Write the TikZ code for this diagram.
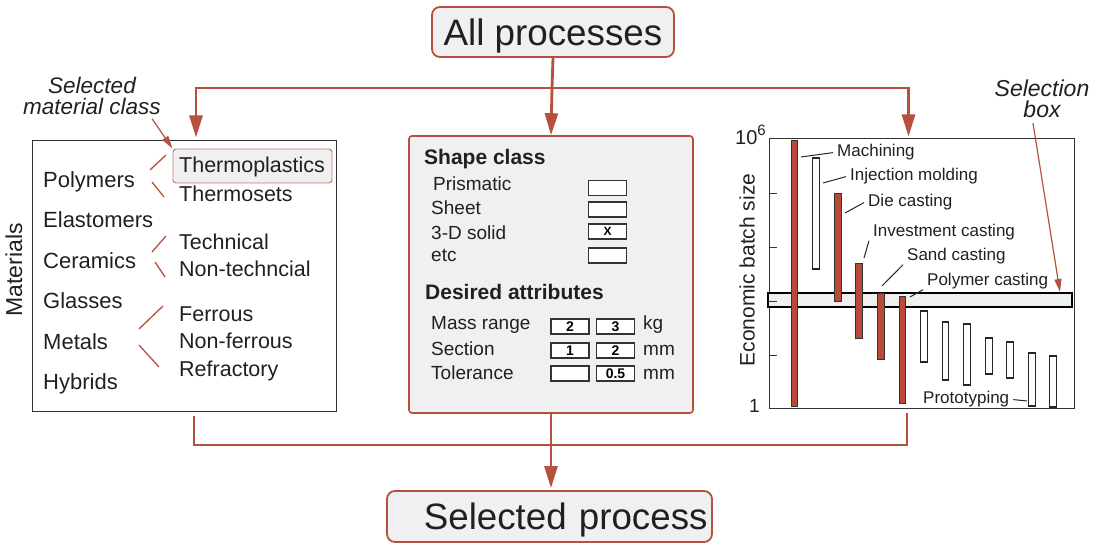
\documentclass[tikz,border=0pt]{standalone}
\usepackage{fontspec}
\setmainfont{Liberation Sans}
\usetikzlibrary{arrows.meta,positioning,calc}
\definecolor{rust}{HTML}{B5513C}
\definecolor{panel}{HTML}{F0F0F0}
\definecolor{barred}{HTML}{B84B38}
\definecolor{ink}{HTML}{231F20}
\newcommand{\fsz}[1]{\fontsize{#1}{#1}\selectfont}
\tikzset{
  flow/.style={rust, line width=2.8pt, -{Triangle[width=13pt,length=22pt]}},
  link/.style={rust, line width=2.8pt},
  pointer/.style={rust, line width=1.2pt, -{Triangle[width=7pt,length=13pt]}},
  titlebox/.style={draw=rust, fill=panel, line width=1.8pt, rounded corners=8pt, inner sep=0pt, text depth=0pt, text=ink},
  item/.style={anchor=base west, inner sep=0pt, font=\fsz{22}, text=ink},
  sub/.style={anchor=base west, inner sep=0pt, font=\fsz{19}, text=ink},
  head/.style={anchor=base west, inner sep=0pt, font=\bfseries\fsz{21}, text=ink},
  field/.style={draw=black!80, fill=white, line width=1.2pt, minimum width=38pt, minimum height=15pt, inner sep=0pt, font=\bfseries\fsz{14}},
  slash/.style={rust, line width=1.3pt},
  tag/.style={anchor=base west, inner xsep=4pt, inner ysep=0pt, font=\fsz{17}, text=ink},
  leader/.style={black!85, line width=1pt},
  redbar/.style={draw=black!80, fill=barred, line width=1pt},
  whitebar/.style={draw=black!85, fill=white, line width=1.2pt},
}
\begin{document}
\begin{tikzpicture}[x=1pt,y=-1pt]
\useasboundingbox (0,0) rectangle (1104,545);

% top and bottom boxes
\node[titlebox, minimum width=242pt, minimum height=50pt, font=\fsz{36.8}] (all) at (553,32) {All processes};
\node[titlebox, minimum height=51pt, text width=316pt, inner xsep=4.5pt, align=right, font=\fsz{36.7}] (sel) at (549.5,516.5) {Selected process};

% materials panel
\node[draw=black!80, line width=1pt, minimum width=304pt, minimum height=271pt, inner sep=0pt] (mat) at (184,276.5) {};
\node[rotate=90, font=\fsz{23}, text=ink] (matlab) at (14,270) {Materials};
\node[draw=rust!80, fill=panel, line width=0.9pt, rounded corners=3pt, minimum width=159pt, minimum height=34pt, inner sep=0pt] (tpbox) at (252.5,166) {};
\node[item] (poly) at (43,187.5) {Polymers};
\node[item] (elast) at (43,227.9) {Elastomers};
\node[item] (cera) at (43,268.3) {Ceramics};
\node[item] (glass) at (43,308.7) {Glasses};
\node[item] (metal) at (43,349.1) {Metals};
\node[item] (hybr) at (43,389.5) {Hybrids};
\node[item, font=\fsz{21.5}] (tplast) at (179,173) {Thermoplastics};
\node[item, font=\fsz{21.5}] (tset) at (179,202) {Thermosets};
\node[item, font=\fsz{21.5}] (tech) at (179,250) {Technical};
\node[item, font=\fsz{21.5}] (ntech) at (179,277) {Non-techncial};
\node[item, font=\fsz{21.5}] (ferr) at (179,322) {Ferrous};
\node[item, font=\fsz{21.5}] (nferr) at (179,349) {Non-ferrous};
\node[item, font=\fsz{21.5}] (refr) at (179,377) {Refractory};
\draw[slash] (150,170) -- (166,155);
\draw[slash] (152,182) -- (164,197);
\draw[slash] (152,252) -- (166,236);
\draw[slash] (155,262) -- (165,277);
\draw[slash] (139,329) -- (163,306);
\draw[slash] (139,345) -- (159,367);
\node[align=center, font=\itshape\fsz{22.5}, text=ink, inner sep=0pt] (selmat) at (92,96) {Selected\\[-2pt]material class};
\draw[pointer] ([xshift=60pt,yshift=-4pt]selmat.south) -- (tpbox.north west);

% shape and attributes panel
\node[draw=rust, fill=panel, line width=1.6pt, rounded corners=3pt, minimum width=284pt, minimum height=277pt, inner sep=0pt] (shape) at (551,274.5) {};
\node[head] (shcls) at (424,165) {Shape class};
\node[sub] (prism) at (433,191) {Prismatic};
\node[sub] (sheet) at (431,215) {Sheet};
\node[sub] (solid) at (431,240) {3-D solid};
\node[sub] (etc) at (431,262) {etc};
\node[field] (fprism) at (607.5,188) {};
\node[field] (fsheet) at (607.5,209.5) {};
\node[field] (fsolid) at (607.5,231.5) {\fsz{12}X};
\node[field] (fetc) at (607.5,255.5) {};
\node[head] (attr) at (425,300) {Desired attributes};
\node[sub] (mass) at (431,330) {Mass range};
\node[sub] (sect) at (431,356) {Section};
\node[sub] (tol) at (431,380) {Tolerance};
\node[field] (massA) at (570,326.5) {2};
\node[field] (massB) at (615.5,326.5) {3};
\node[field] (sectA) at (570,350.5) {1};
\node[field] (sectB) at (615.5,350.5) {2};
\node[field] (tolA) at (570,373.5) {};
\node[field] (tolB) at (615.5,373.5) {0.5};
\node[sub] (ukg) at (643,330) {kg};
\node[sub] (umm) at (643,356) {mm};
\node[sub] (umm2) at (643,380) {mm};

% batch size chart
\node[draw=black!80, line width=1pt, minimum width=305pt, minimum height=270pt, inner sep=0pt] (chart) at (921.5,274) {};
\node[draw=black, fill=panel, line width=2pt, minimum width=304pt, minimum height=14pt, inner sep=0pt] (selbox) at (920,300) {};
\foreach \ty in {193,247,301,355}
  \draw[black!80, line width=0.8pt] (769,\ty) -- (777,\ty);
\node[anchor=base west, inner sep=0pt, font=\fsz{20}, text=ink] (ytop) at (735,145) {10\raisebox{9pt}{\fsz{15}6}};
\node[anchor=base east, inner sep=0pt, font=\fsz{19}, text=ink] (ybot) at (760,413) {1};
\node[rotate=90, font=\fsz{21}, text=ink] (ylab) at (747,270) {Economic batch size};
\foreach \cx/\top/\bot in {816/158/269, 924/311/362, 945.5/322/380, 967/324/385, 989/338/374, 1010/342/378, 1032/353/406, 1053/356/407}
  \draw[whitebar] (\cx-3.2,\top) rectangle (\cx+3.2,\bot);
\foreach \cx/\top/\bot in {794.5/141/407, 838/194/302, 859/264/339, 881/294/360, 902.5/297/404}
  \draw[redbar] (\cx-3.2,\top) rectangle (\cx+3.2,\bot);
\node[tag] (lmach) at (833,157) {Machining};
\node[tag] (linj) at (846,181) {Injection molding};
\node[tag] (ldie) at (864,207) {Die casting};
\node[tag] (linv) at (869,237) {Investment casting};
\node[tag] (lsand) at (903,261) {Sand casting};
\node[tag] (lpoly) at (923,286) {Polymer casting};
\node[tag] (lproto) at (919,404) {Prototyping};
\draw[leader] (801,157) -- (lmach.west);
\draw[leader] (823,183) -- (linj.west);
\draw[leader] (845,213) -- (ldie.west);
\draw[leader] (864,258) -- (linv.south west);
\draw[leader] (882,286) -- (lsand.south west);
\draw[leader] (910,297) -- (lpoly.south west);
\draw[leader] (lproto.east) -- (1027,401);
\node[align=center, font=\itshape\fsz{23}, text=ink, inner sep=0pt] (sellab) at (1042,99) {Selection\\[-2pt]box};
\draw[pointer] ([xshift=-9pt,yshift=-5pt]sellab.south) -- ([xshift=-13pt]selbox.north east);

% connectors
\coordinate (hub) at (552,88);
\coordinate (base) at (552,445);
\draw[link] (all.south) -- (hub);
\draw[flow, shorten >=3pt] (hub) -| ([xshift=12pt]mat.north);
\draw[flow] (hub) -- (shape.north);
\draw[flow, shorten >=2pt] (hub) -| ([xshift=-13pt]chart.north);
\draw[link] ([xshift=10pt,yshift=-4pt]mat.south) |- (base) -| ([xshift=-14.5pt,yshift=-4pt]chart.south);
\draw[flow, shorten >=2pt] (shape.south) -- (shape.south |- sel.north);
\end{tikzpicture}
\end{document}
